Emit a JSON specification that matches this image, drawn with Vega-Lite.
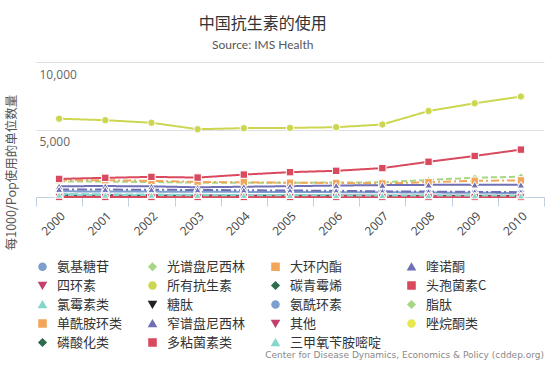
{
"$schema": "https://vega.github.io/schema/vega-lite/v6.json",
"background": "white",
"padding": {"left": 5, "top": 16, "right": 9, "bottom": 0},
"title": {"text": "中国抗生素的使用", "subtitle": "Source: IMS Health", "anchor": "middle", "dx": -12, "offset": 11, "font": "Noto Sans CJK SC", "fontSize": 16, "fontWeight": "normal", "color": "#333333", "subtitleFont": "Lato", "subtitleFontSize": 12, "subtitleColor": "#555555", "subtitlePadding": 8},
"resolve": {"legend": {"color": "independent", "shape": "independent"}},
"spacing": 0,
"vconcat": [
{
"width": 508, "height": 135,
"data": {"values": [
{"year":"2000","type":"氨基糖苷","value":420},{"year":"2001","type":"氨基糖苷","value":410},{"year":"2002","type":"氨基糖苷","value":400},{"year":"2003","type":"氨基糖苷","value":390},{"year":"2004","type":"氨基糖苷","value":380},{"year":"2005","type":"氨基糖苷","value":370},{"year":"2006","type":"氨基糖苷","value":360},{"year":"2007","type":"氨基糖苷","value":350},{"year":"2008","type":"氨基糖苷","value":330},{"year":"2009","type":"氨基糖苷","value":310},{"year":"2010","type":"氨基糖苷","value":300},
{"year":"2000","type":"光谱盘尼西林","value":1150},{"year":"2001","type":"光谱盘尼西林","value":1140},{"year":"2002","type":"光谱盘尼西林","value":1110},{"year":"2003","type":"光谱盘尼西林","value":1060},{"year":"2004","type":"光谱盘尼西林","value":1050},{"year":"2005","type":"光谱盘尼西林","value":1060},{"year":"2006","type":"光谱盘尼西林","value":1070},{"year":"2007","type":"光谱盘尼西林","value":1090},{"year":"2008","type":"光谱盘尼西林","value":1260},{"year":"2009","type":"光谱盘尼西林","value":1430},{"year":"2010","type":"光谱盘尼西林","value":1500},
{"year":"2000","type":"大环内酯","value":1250},{"year":"2001","type":"大环内酯","value":1240},{"year":"2002","type":"大环内酯","value":1200},{"year":"2003","type":"大环内酯","value":1120},{"year":"2004","type":"大环内酯","value":1090},{"year":"2005","type":"大环内酯","value":1060},{"year":"2006","type":"大环内酯","value":1040},{"year":"2007","type":"大环内酯","value":1000},{"year":"2008","type":"大环内酯","value":1100},{"year":"2009","type":"大环内酯","value":1200},{"year":"2010","type":"大环内酯","value":1230},
{"year":"2000","type":"喹诺酮","value":800},{"year":"2001","type":"喹诺酮","value":810},{"year":"2002","type":"喹诺酮","value":790},{"year":"2003","type":"喹诺酮","value":720},{"year":"2004","type":"喹诺酮","value":760},{"year":"2005","type":"喹诺酮","value":800},{"year":"2006","type":"喹诺酮","value":850},{"year":"2007","type":"喹诺酮","value":880},{"year":"2008","type":"喹诺酮","value":900},{"year":"2009","type":"喹诺酮","value":910},{"year":"2010","type":"喹诺酮","value":900},
{"year":"2000","type":"四环素","value":160},{"year":"2001","type":"四环素","value":150},{"year":"2002","type":"四环素","value":140},{"year":"2003","type":"四环素","value":130},{"year":"2004","type":"四环素","value":120},{"year":"2005","type":"四环素","value":110},{"year":"2006","type":"四环素","value":105},{"year":"2007","type":"四环素","value":100},{"year":"2008","type":"四环素","value":95},{"year":"2009","type":"四环素","value":90},{"year":"2010","type":"四环素","value":85},
{"year":"2000","type":"所有抗生素","value":5800},{"year":"2001","type":"所有抗生素","value":5690},{"year":"2002","type":"所有抗生素","value":5500},{"year":"2003","type":"所有抗生素","value":5020},{"year":"2004","type":"所有抗生素","value":5100},{"year":"2005","type":"所有抗生素","value":5120},{"year":"2006","type":"所有抗生素","value":5170},{"year":"2007","type":"所有抗生素","value":5370},{"year":"2008","type":"所有抗生素","value":6370},{"year":"2009","type":"所有抗生素","value":6940},{"year":"2010","type":"所有抗生素","value":7440},
{"year":"2000","type":"碳青霉烯","value":5},{"year":"2001","type":"碳青霉烯","value":7},{"year":"2002","type":"碳青霉烯","value":9},{"year":"2003","type":"碳青霉烯","value":12},{"year":"2004","type":"碳青霉烯","value":15},{"year":"2005","type":"碳青霉烯","value":19},{"year":"2006","type":"碳青霉烯","value":24},{"year":"2007","type":"碳青霉烯","value":30},{"year":"2008","type":"碳青霉烯","value":38},{"year":"2009","type":"碳青霉烯","value":46},{"year":"2010","type":"碳青霉烯","value":55},
{"year":"2000","type":"头孢菌素C","value":1340},{"year":"2001","type":"头孢菌素C","value":1420},{"year":"2002","type":"头孢菌素C","value":1490},{"year":"2003","type":"头孢菌素C","value":1440},{"year":"2004","type":"头孢菌素C","value":1660},{"year":"2005","type":"头孢菌素C","value":1840},{"year":"2006","type":"头孢菌素C","value":1940},{"year":"2007","type":"头孢菌素C","value":2140},{"year":"2008","type":"头孢菌素C","value":2610},{"year":"2009","type":"头孢菌素C","value":3040},{"year":"2010","type":"头孢菌素C","value":3510},
{"year":"2000","type":"氯霉素类","value":220},{"year":"2001","type":"氯霉素类","value":200},{"year":"2002","type":"氯霉素类","value":180},{"year":"2003","type":"氯霉素类","value":160},{"year":"2004","type":"氯霉素类","value":140},{"year":"2005","type":"氯霉素类","value":125},{"year":"2006","type":"氯霉素类","value":110},{"year":"2007","type":"氯霉素类","value":100},{"year":"2008","type":"氯霉素类","value":90},{"year":"2009","type":"氯霉素类","value":80},{"year":"2010","type":"氯霉素类","value":70},
{"year":"2000","type":"糖肽","value":10},{"year":"2001","type":"糖肽","value":11},{"year":"2002","type":"糖肽","value":12},{"year":"2003","type":"糖肽","value":14},{"year":"2004","type":"糖肽","value":16},{"year":"2005","type":"糖肽","value":18},{"year":"2006","type":"糖肽","value":20},{"year":"2007","type":"糖肽","value":22},{"year":"2008","type":"糖肽","value":25},{"year":"2009","type":"糖肽","value":28},{"year":"2010","type":"糖肽","value":30},
{"year":"2000","type":"氨酰环素","value":0},{"year":"2001","type":"氨酰环素","value":0},{"year":"2002","type":"氨酰环素","value":0},{"year":"2003","type":"氨酰环素","value":0},{"year":"2004","type":"氨酰环素","value":0},{"year":"2005","type":"氨酰环素","value":0},{"year":"2006","type":"氨酰环素","value":0},{"year":"2007","type":"氨酰环素","value":1},{"year":"2008","type":"氨酰环素","value":1},{"year":"2009","type":"氨酰环素","value":2},{"year":"2010","type":"氨酰环素","value":2},
{"year":"2000","type":"脂肽","value":0},{"year":"2001","type":"脂肽","value":0},{"year":"2002","type":"脂肽","value":0},{"year":"2003","type":"脂肽","value":0},{"year":"2004","type":"脂肽","value":0},{"year":"2005","type":"脂肽","value":0},{"year":"2006","type":"脂肽","value":0},{"year":"2007","type":"脂肽","value":0},{"year":"2008","type":"脂肽","value":1},{"year":"2009","type":"脂肽","value":1},{"year":"2010","type":"脂肽","value":1},
{"year":"2000","type":"单酰胺环类","value":4},{"year":"2001","type":"单酰胺环类","value":4},{"year":"2002","type":"单酰胺环类","value":5},{"year":"2003","type":"单酰胺环类","value":5},{"year":"2004","type":"单酰胺环类","value":5},{"year":"2005","type":"单酰胺环类","value":6},{"year":"2006","type":"单酰胺环类","value":6},{"year":"2007","type":"单酰胺环类","value":7},{"year":"2008","type":"单酰胺环类","value":7},{"year":"2009","type":"单酰胺环类","value":8},{"year":"2010","type":"单酰胺环类","value":8},
{"year":"2000","type":"窄谱盘尼西林","value":560},{"year":"2001","type":"窄谱盘尼西林","value":550},{"year":"2002","type":"窄谱盘尼西林","value":540},{"year":"2003","type":"窄谱盘尼西林","value":520},{"year":"2004","type":"窄谱盘尼西林","value":500},{"year":"2005","type":"窄谱盘尼西林","value":480},{"year":"2006","type":"窄谱盘尼西林","value":460},{"year":"2007","type":"窄谱盘尼西林","value":420},{"year":"2008","type":"窄谱盘尼西林","value":400},{"year":"2009","type":"窄谱盘尼西林","value":380},{"year":"2010","type":"窄谱盘尼西林","value":360},
{"year":"2000","type":"其他","value":40},{"year":"2001","type":"其他","value":40},{"year":"2002","type":"其他","value":40},{"year":"2003","type":"其他","value":40},{"year":"2004","type":"其他","value":40},{"year":"2005","type":"其他","value":40},{"year":"2006","type":"其他","value":40},{"year":"2007","type":"其他","value":40},{"year":"2008","type":"其他","value":40},{"year":"2009","type":"其他","value":40},{"year":"2010","type":"其他","value":40},
{"year":"2000","type":"唑烷酮类","value":0},{"year":"2001","type":"唑烷酮类","value":0},{"year":"2002","type":"唑烷酮类","value":0},{"year":"2003","type":"唑烷酮类","value":1},{"year":"2004","type":"唑烷酮类","value":1},{"year":"2005","type":"唑烷酮类","value":1},{"year":"2006","type":"唑烷酮类","value":2},{"year":"2007","type":"唑烷酮类","value":2},{"year":"2008","type":"唑烷酮类","value":3},{"year":"2009","type":"唑烷酮类","value":4},{"year":"2010","type":"唑烷酮类","value":5},
{"year":"2000","type":"磷酸化类","value":60},{"year":"2001","type":"磷酸化类","value":60},{"year":"2002","type":"磷酸化类","value":58},{"year":"2003","type":"磷酸化类","value":56},{"year":"2004","type":"磷酸化类","value":55},{"year":"2005","type":"磷酸化类","value":54},{"year":"2006","type":"磷酸化类","value":52},{"year":"2007","type":"磷酸化类","value":50},{"year":"2008","type":"磷酸化类","value":50},{"year":"2009","type":"磷酸化类","value":48},{"year":"2010","type":"磷酸化类","value":48},
{"year":"2000","type":"多粘菌素类","value":2},{"year":"2001","type":"多粘菌素类","value":2},{"year":"2002","type":"多粘菌素类","value":2},{"year":"2003","type":"多粘菌素类","value":2},{"year":"2004","type":"多粘菌素类","value":2},{"year":"2005","type":"多粘菌素类","value":2},{"year":"2006","type":"多粘菌素类","value":2},{"year":"2007","type":"多粘菌素类","value":2},{"year":"2008","type":"多粘菌素类","value":2},{"year":"2009","type":"多粘菌素类","value":2},{"year":"2010","type":"多粘菌素类","value":2},
{"year":"2000","type":"三甲氧苄胺嘧啶","value":150},{"year":"2001","type":"三甲氧苄胺嘧啶","value":145},{"year":"2002","type":"三甲氧苄胺嘧啶","value":140},{"year":"2003","type":"三甲氧苄胺嘧啶","value":135},{"year":"2004","type":"三甲氧苄胺嘧啶","value":130},{"year":"2005","type":"三甲氧苄胺嘧啶","value":125},{"year":"2006","type":"三甲氧苄胺嘧啶","value":120},{"year":"2007","type":"三甲氧苄胺嘧啶","value":115},{"year":"2008","type":"三甲氧苄胺嘧啶","value":110},{"year":"2009","type":"三甲氧苄胺嘧啶","value":105},{"year":"2010","type":"三甲氧苄胺嘧啶","value":100}
]},
"encoding": {
  "x": {"field": "year", "type": "ordinal", "scale": {"type": "band", "paddingInner": 0, "paddingOuter": 0},
        "axis": {"title": null, "labelAngle": -45, "labelFont": "Open Sans", "labelFontSize": 12, "labelColor": "#444444", "labelPadding": 4, "tickBand": "extent", "tickSize": 9, "tickColor": "#c0d0e0", "domainColor": "#c0d0e0", "grid": false}},
  "y": {"field": "value", "type": "quantitative", "scale": {"domain": [0, 10000], "nice": false},
        "axis": {"title": "每1000/Pop使用的单位数量", "titleFont": "Noto Sans CJK SC", "titleFontSize": 12.5, "titleFontWeight": "normal", "titleColor": "#555555", "titleX": -18, "titleY": 110,
                 "values": [0, 5000, 10000], "labelExpr": "datum.value == 0 ? '' : format(datum.value, ',')",
                 "labelAlign": "left", "labelBaseline": "middle", "labelPadding": -3, "labelOffset": 12, "labelFont": "Open Sans", "labelFontSize": 12, "labelColor": "#666666",
                 "ticks": false, "tickSize": 0, "domain": false, "grid": true, "gridColor": "#e0e0e0"}},
  "color": {"field": "type", "type": "nominal",
            "scale": {"domain": ["氨基糖苷","光谱盘尼西林","大环内酯","喹诺酮","四环素","所有抗生素","碳青霉烯","头孢菌素C","氯霉素类","糖肽","氨酰环素","脂肽","单酰胺环类","窄谱盘尼西林","其他","唑烷酮类","磷酸化类","多粘菌素类","三甲氧苄胺嘧啶"],
                      "range": ["#7c9fce","#a6d785","#f2a65a","#6f6fb5","#c2416e","#cdd651","#2d6b4b","#d94a5e","#85d6cc","#222222","#7c9fce","#a6d785","#f2a65a","#6f6fb5","#c2416e","#e6e84f","#2d6b4b","#d94a5e","#85d6cc"]},
            "legend": {"title": null}}
},
"layer": [
  {"mark": {"type": "line", "strokeWidth": 2},
   "encoding": {"strokeDash": {"field": "type", "type": "nominal", "legend": null,
      "scale": {"domain": ["氨基糖苷","光谱盘尼西林","大环内酯","喹诺酮","四环素","所有抗生素","碳青霉烯","头孢菌素C","氯霉素类","糖肽","氨酰环素","脂肽","单酰胺环类","窄谱盘尼西林","其他","唑烷酮类","磷酸化类","多粘菌素类","三甲氧苄胺嘧啶"],
                "range": [[1,0],[6,3],[8,3,2,3],[1,0],[1,0],[1,0],[6,3,2,3],[1,0],[8,3],[1,0],[1,0],[2,3],[1,0],[10,3,2,3],[1,0],[2,2],[4,3],[1,0],[6,3]]}}}},
  {"mark": {"type": "point", "filled": true, "size": 55, "opacity": 1, "stroke": "white", "strokeWidth": 1},
   "encoding": {"shape": {"field": "type", "type": "nominal", "legend": {"title": null},
      "scale": {"domain": ["氨基糖苷","光谱盘尼西林","大环内酯","喹诺酮","四环素","所有抗生素","碳青霉烯","头孢菌素C","氯霉素类","糖肽","氨酰环素","脂肽","单酰胺环类","窄谱盘尼西林","其他","唑烷酮类","磷酸化类","多粘菌素类","三甲氧苄胺嘧啶"],
                "range": ["circle","diamond","square","triangle-up","triangle-down","circle","diamond","square","triangle-up","triangle-down","circle","diamond","square","triangle-up","triangle-down","circle","diamond","square","triangle-up"]}}}}
]
},
{
"width": 508, "height": 1,
"data": {"values": [{}]},
"mark": {"type": "rule", "opacity": 0},
"encoding": {},
"title": {"text": "Center for Disease Dynamics, Economics & Policy (cddep.org)", "anchor": "end", "font": "DejaVu Sans", "fontSize": 9, "fontWeight": "normal", "color": "#888888", "offset": 2}
}
],
"config": {
  "view": {"stroke": null},
  "legend": {"orient": "bottom", "direction": "horizontal", "columns": 4, "labelFont": "Noto Sans CJK SC", "labelFontSize": 13, "labelColor": "#333333", "symbolSize": 50, "rowPadding": 4, "columnPadding": 22, "labelLimit": 200, "labelOffset": 8, "offset": 22}
}
}
